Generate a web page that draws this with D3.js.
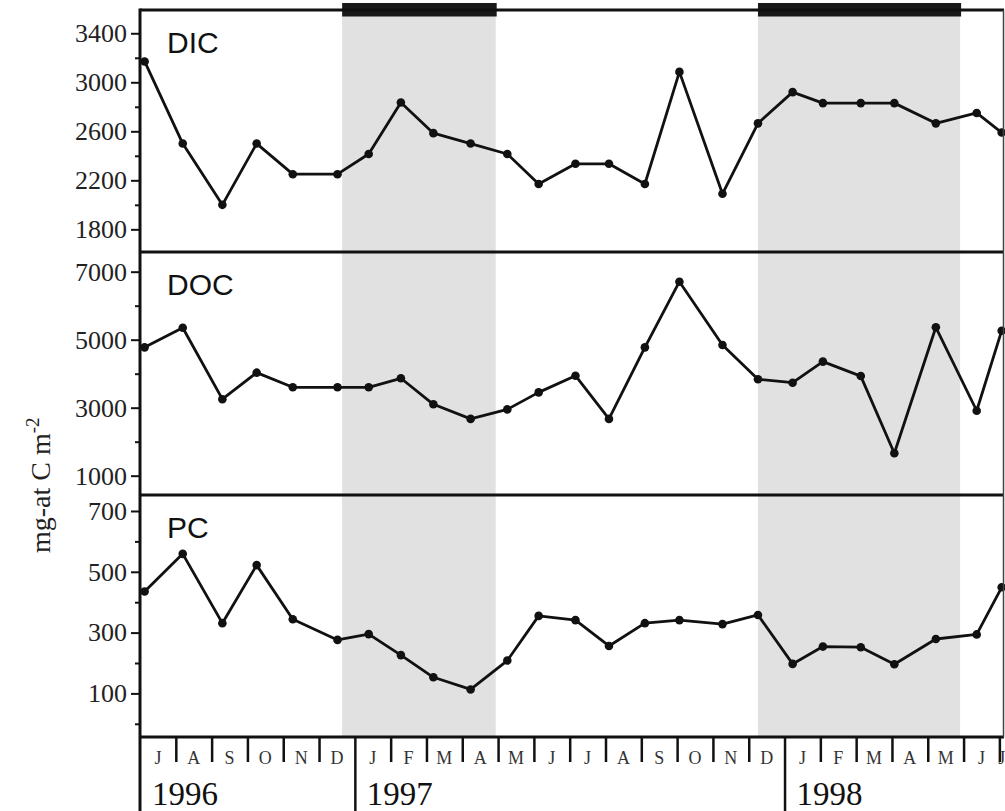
<!DOCTYPE html>
<html>
<head>
<meta charset="utf-8">
<script src="https://cdn.jsdelivr.net/npm/d3@7"></script>
<style>
  html, body { margin: 0; padding: 0; background: #fff; }
  svg { display: block; }
</style>
</head>
<body>
<svg id="chart" width="1005" height="811"></svg>
<script>
// Sampling dates (one profile per cruise)
const sampleDates = [
  "1996-07-05","1996-08-07","1996-09-10","1996-10-09","1996-11-09","1996-12-17",
  "1997-01-13","1997-02-09","1997-03-07","1997-04-08","1997-05-09","1997-06-05",
  "1997-07-06","1997-08-04","1997-09-04","1997-10-03","1997-11-09","1997-12-09",
  "1998-01-08","1998-02-03","1998-03-05","1998-04-03","1998-05-08","1998-06-12",
  "1998-07-03"
];

// Integrated carbon pools, mg-at C m^-2
const dicValues = [3170, 2500, 2000, 2500, 2250, 2250, 2415, 2835, 2585, 2500, 2415, 2170,
                   2335, 2335, 2170, 3085, 2090, 2665, 2920, 2830, 2830, 2830, 2665, 2750, 2590];
const docValues = [4775, 5350, 3250, 4030, 3600, 3600, 3600, 3865, 3100, 2670, 2950, 3450,
                   3940, 2670, 4775, 6705, 4845, 3835, 3735, 4355, 3930, 1660, 5365, 2910, 5265];
const pcValues  = [435, 559, 331, 522, 344, 276, 295, 226, 153, 113, 208, 355,
                   341, 256, 331, 341, 328, 358, 197, 254, 252, 196, 279, 294, 449];

// Shaded periods
const periods = [["1996-12-21", "1997-04-29"], ["1997-12-09", "1998-05-29"]];

// Time axis labels
const monthLabels = ["J","A","S","O","N","D","J","F","M","A","M","J",
                     "J","A","S","O","N","D","J","F","M","A","M","J","J"];
const yearLabels = [{ label: "1996", start: "1996-07-01" },
                    { label: "1997", start: "1997-01-01" },
                    { label: "1998", start: "1998-01-01" }];

// Tick values per panel
const dicMajor = [1800, 2200, 2600, 3000, 3400], dicMinor = [2000, 2400, 2800, 3200];
const docMajor = [1000, 3000, 5000, 7000],       docMinor = [2000, 4000, 6000];
const pcMajor  = [100, 300, 500, 700],           pcMinor  = [0, 200, 400, 600];

// ---- layout ----
const plotLeft = 140, plotRight = 1004, plotTop = 10, plotBottom = 737, svgH = 811;
const panelEdges = [10, 252, 495, 737];
const serif = "'Liberation Serif', 'Times New Roman', serif";
const sans = "'Liberation Sans', Arial, sans-serif";

// Dates -> fractional month index from July 1996
function monthIndex(s) {
  const [yy, mm, dd] = s.split("-").map(Number);
  const days = new Date(yy, mm, 0).getDate();
  return (yy - 1996) * 12 + (mm - 1) - 6 + (dd - 1) / days;
}

const x = d3.scaleLinear()
  .domain([monthIndex("1996-07-01"), monthIndex("1998-07-05")])
  .range([plotLeft, plotRight]);

const panels = [
  { name: "DIC", values: dicValues, domain: [1615, 3590], major: dicMajor, minor: dicMinor },
  { name: "DOC", values: docValues, domain: [432, 7579],  major: docMajor, minor: docMinor },
  { name: "PC",  values: pcValues,  domain: [-43.4, 752.6], major: pcMajor, minor: pcMinor }
];

const svg = d3.select("#chart");

// Shaded periods across all panels
svg.append("g").selectAll("rect")
  .data(periods)
  .join("rect")
  .attr("x", d => x(monthIndex(d[0])))
  .attr("width", d => x(monthIndex(d[1])) - x(monthIndex(d[0])))
  .attr("y", plotTop)
  .attr("height", plotBottom - plotTop)
  .attr("fill", "#e1e1e1");

// Black bars on the top edge marking the same periods
svg.append("g").selectAll("rect")
  .data(periods)
  .join("rect")
  .attr("x", d => x(monthIndex(d[0])))
  .attr("width", d => x(monthIndex(d[1])) - x(monthIndex(d[0])) + 1)
  .attr("y", 3)
  .attr("height", 13.5)
  .attr("fill", "#1a1a1a");

const xs = sampleDates.map(monthIndex);

panels.forEach((p, i) => {
  const y0 = panelEdges[i], y1 = panelEdges[i + 1];
  const y = d3.scaleLinear().domain(p.domain).range([y1, y0]);
  const pts = p.values.map((v, k) => [xs[k], v]);

  const g = svg.append("g");

  g.append("path")
    .datum(pts)
    .attr("fill", "none")
    .attr("stroke", "#111")
    .attr("stroke-width", 2.8)
    .attr("stroke-linejoin", "round")
    .attr("d", d3.line().x(d => x(d[0])).y(d => y(d[1])));

  g.selectAll("circle")
    .data(pts)
    .join("circle")
    .attr("cx", d => x(d[0]))
    .attr("cy", d => y(d[1]))
    .attr("r", 4.3)
    .attr("fill", "#111");

  // Major ticks with labels
  const ax = svg.append("g")
    .attr("transform", `translate(${plotLeft},0)`)
    .call(d3.axisLeft(y).tickValues(p.major).tickSize(9).tickPadding(4).tickFormat(d3.format("d")));
  ax.select(".domain").remove();
  ax.selectAll("line").attr("stroke", "#111").attr("stroke-width", 2);
  ax.selectAll("text").attr("font-family", serif).attr("font-size", 26).attr("fill", "#222");

  // Minor ticks
  const mx = svg.append("g")
    .attr("transform", `translate(${plotLeft},0)`)
    .call(d3.axisLeft(y).tickValues(p.minor).tickSize(5).tickFormat(""));
  mx.select(".domain").remove();
  mx.selectAll("line").attr("stroke", "#111").attr("stroke-width", 2);

  // Panel label
  svg.append("text")
    .attr("x", 167)
    .attr("y", y0 + 43)
    .attr("font-family", sans)
    .attr("font-size", 30)
    .attr("fill", "#111")
    .text(p.name);
});

// Frame: top edge, panel separators, right edge, left axis
svg.append("g").selectAll("line")
  .data(panelEdges)
  .join("line")
  .attr("x1", plotLeft).attr("x2", plotRight)
  .attr("y1", d => d).attr("y2", d => d)
  .attr("stroke", "#111").attr("stroke-width", 3);

svg.append("line")
  .attr("x1", plotRight - 0.5).attr("x2", plotRight - 0.5)
  .attr("y1", plotTop).attr("y2", plotBottom)
  .attr("stroke", "#444").attr("stroke-width", 1.5);

svg.append("line")
  .attr("x1", plotLeft).attr("x2", plotLeft)
  .attr("y1", plotTop - 1.5).attr("y2", svgH)
  .attr("stroke", "#111").attr("stroke-width", 3);

// Month ticks on the time axis
const yearIdx = yearLabels.map(d => monthIndex(d.start));
const monthTicks = d3.range(1, 25).filter(m => !yearIdx.includes(m));
const bx = svg.append("g")
  .attr("transform", `translate(0,${plotBottom})`)
  .call(d3.axisBottom(x).tickValues(monthTicks).tickSize(25).tickFormat(""));
bx.select(".domain").remove();
bx.selectAll("line").attr("stroke", "#111").attr("stroke-width", 2.5);

// Year ticks run to the bottom
const yx = svg.append("g")
  .attr("transform", `translate(0,${plotBottom})`)
  .call(d3.axisBottom(x).tickValues(yearIdx.filter(v => v > 0)).tickSize(svgH - plotBottom).tickFormat(""));
yx.select(".domain").remove();
yx.selectAll("line").attr("stroke", "#111").attr("stroke-width", 2.5);

// Month letters centred in the visible part of each month
svg.append("g").selectAll("text")
  .data(monthLabels)
  .join("text")
  .attr("x", (d, k) => (x(k) + Math.min(x(k + 1), plotRight)) / 2)
  .attr("y", plotBottom + 27)
  .attr("text-anchor", "middle")
  .attr("font-family", serif)
  .attr("font-size", 18)
  .attr("fill", "#333")
  .text(d => d);

// Year labels
svg.append("g").selectAll("text")
  .data(yearLabels)
  .join("text")
  .attr("x", d => x(monthIndex(d.start)) + 12)
  .attr("y", 805)
  .attr("font-family", serif)
  .attr("font-size", 33)
  .attr("fill", "#111")
  .text(d => d.label);

// Y axis title
const title = svg.append("text")
  .attr("transform", "translate(50,553) rotate(-90)")
  .attr("font-family", serif)
  .attr("font-size", 28)
  .attr("fill", "#222");
title.append("tspan").text("mg-at C m");
title.append("tspan").attr("dy", -11).attr("font-size", 19).text("-2");
</script>
</body>
</html>
